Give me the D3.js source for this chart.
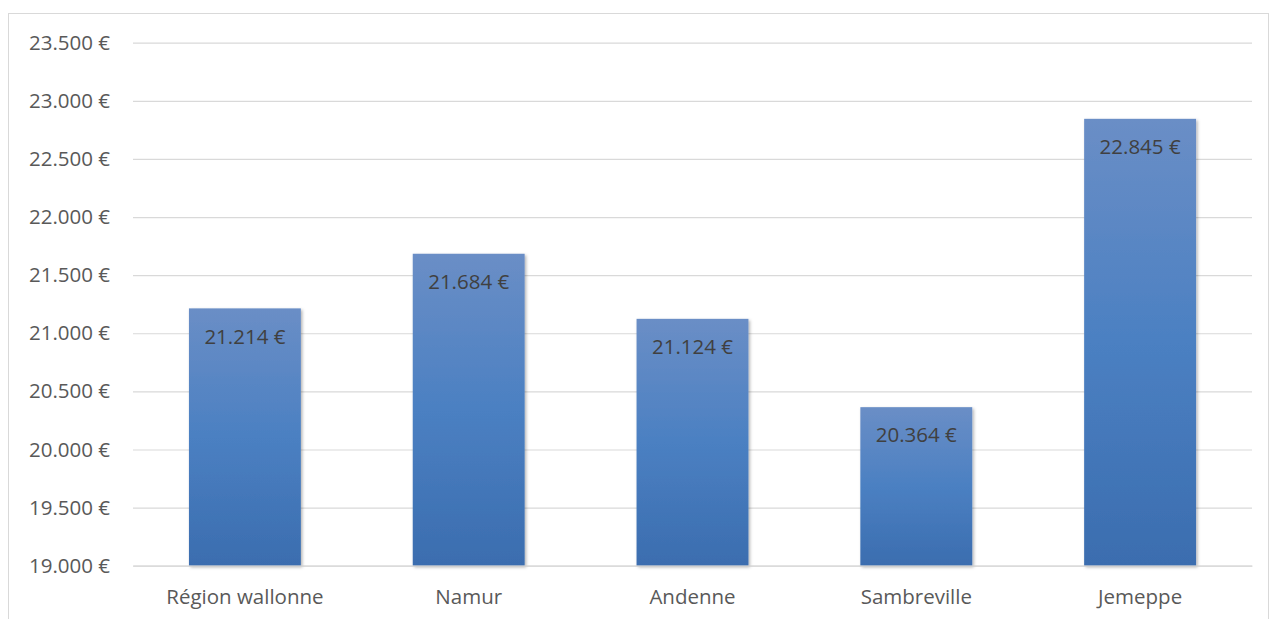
<!DOCTYPE html>
<html>
<head>
<meta charset="utf-8">
<script src="https://cdn.jsdelivr.net/npm/d3@7"></script>
<style>
  body { margin: 0; background: #fff; }
  text { font-family: "Open Sans", sans-serif; }
</style>
</head>
<body>
<div id="chart"></div>
<script>
// data
var categories = ["Région wallonne", "Namur", "Andenne", "Sambreville", "Jemeppe"];
var values = [21214, 21684, 21124, 20364, 22845];
var yTicks = [19000, 19500, 20000, 20500, 21000, 21500, 22000, 22500, 23000, 23500];

var width = 1270,
    height = 619;

var margin = {left: 133, right: 18, top: 42.7, bottom: 53.3};

var svg = d3.select("#chart").append("svg")
    .attr("width", width)
    .attr("height", height);

// frame around the chart
svg.append("rect")
    .attr("x", 8.5).attr("y", 13.5)
    .attr("width", 1260).attr("height", 620)
    .attr("fill", "none")
    .attr("stroke", "#d9d9d9");

var x = d3.scaleBand()
    .domain(categories)
    .range([margin.left, width - margin.right])
    .paddingInner(0.5)
    .paddingOuter(0.25);

var y = d3.scaleLinear()
    .domain([19000, 23500])
    .range([height - margin.bottom, margin.top]);

var euro = function(v) { return d3.format(",")(v).replace(/,/g, ".") + " €"; };

// gradient + shadow for the bars
var defs = svg.append("defs");
var grad = defs.append("linearGradient")
    .attr("id", "barGrad")
    .attr("x1", 0).attr("y1", 0).attr("x2", 0).attr("y2", 1);
grad.append("stop").attr("offset", "0%").attr("stop-color", "#6a8ec6");
grad.append("stop").attr("offset", "50%").attr("stop-color", "#4b80c2");
grad.append("stop").attr("offset", "100%").attr("stop-color", "#3b6daf");

var shadow = defs.append("filter").attr("id", "shadow")
    .attr("x", "-10%").attr("y", "-10%").attr("width", "120%").attr("height", "120%");
shadow.append("feDropShadow")
    .attr("dx", 1.5).attr("dy", 1.5).attr("stdDeviation", 1.5)
    .attr("flood-color", "#000").attr("flood-opacity", 0.3);

// y axis with gridlines
var yAxis = svg.append("g")
    .attr("transform", "translate(" + margin.left + ",0)")
    .call(d3.axisLeft(y)
        .tickValues(yTicks)
        .tickSize(-(width - margin.left - margin.right))
        .tickFormat(euro));

yAxis.select(".domain").remove();
yAxis.selectAll(".tick line")
    .attr("stroke", "#d9d9d9")
    .attr("stroke-width", 1.2);
yAxis.selectAll(".tick text")
    .attr("x", -23)
    .attr("fill", "#595959")
    .style("font-size", "20.5px");

// bars
svg.selectAll(".bar")
    .data(values)
    .enter().append("rect")
    .attr("class", "bar")
    .attr("x", function(d, i) { return x(categories[i]); })
    .attr("y", function(d) { return y(d); })
    .attr("width", x.bandwidth())
    .attr("height", function(d) { return y(19000) - y(d); })
    .attr("fill", "url(#barGrad)")
    .attr("filter", "url(#shadow)");

// data labels
svg.selectAll(".label")
    .data(values)
    .enter().append("text")
    .attr("class", "label")
    .attr("x", function(d, i) { return x(categories[i]) + x.bandwidth() / 2; })
    .attr("y", function(d) { return y(d) + 28; })
    .attr("dy", "0.35em")
    .attr("text-anchor", "middle")
    .attr("fill", "#404040")
    .style("font-size", "20.5px")
    .text(euro);

// category axis
var xAxis = svg.append("g")
    .attr("transform", "translate(0," + y(19000) + ")")
    .call(d3.axisBottom(x).tickSize(0));

xAxis.select(".domain")
    .attr("stroke", "#d9d9d9")
    .attr("stroke-width", 1.2);
xAxis.selectAll(".tick text")
    .attr("y", 31)
    .attr("dy", "0.35em")
    .attr("fill", "#595959")
    .style("font-size", "20.5px");
</script>
</body>
</html>
